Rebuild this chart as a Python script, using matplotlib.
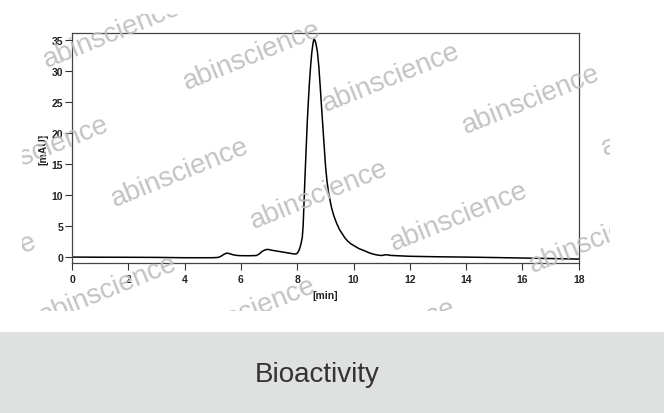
import matplotlib
matplotlib.use("Agg")
import matplotlib.pyplot as plt
from matplotlib.patches import Rectangle

plt.rcParams["font.family"] = ["Liberation Sans", "DejaVu Sans"]

# chromatogram trace (time in min, signal in mAU)
time_min = [
    0.0, 1.0, 2.0, 3.0, 4.0, 5.0, 5.2, 5.3, 5.4, 5.5, 5.6, 5.7, 5.85, 6.0,
    6.3, 6.55, 6.65, 6.75, 6.85, 6.95, 7.1, 7.3, 7.5, 7.7, 7.85, 7.95,
    8.0, 8.05, 8.1, 8.14, 8.18, 8.21, 8.24, 8.27, 8.3, 8.33, 8.36, 8.4,
    8.44, 8.48, 8.52, 8.56, 8.59, 8.61, 8.64, 8.67, 8.72, 8.77, 8.81,
    8.85, 8.89, 8.93, 8.97, 9.01, 9.06, 9.11, 9.17, 9.22, 9.3, 9.4, 9.5,
    9.6, 9.7, 9.8, 9.9, 10.05, 10.2, 10.4, 10.55, 10.7, 10.85, 11.0,
    11.1, 11.2, 11.3, 11.5, 12.0, 13.0, 14.0, 15.0, 16.0, 17.0, 18.0,
]
signal_mau = [
    0.05, 0.03, 0.02, 0.0, -0.05, -0.05, 0.0, 0.2, 0.5, 0.7, 0.6, 0.45,
    0.32, 0.28, 0.27, 0.3, 0.55, 0.95, 1.2, 1.3, 1.15, 1.0, 0.85, 0.7,
    0.58, 0.55, 0.65, 1.0, 1.6, 2.3, 3.2, 5.0, 8.5, 12.2, 15.5, 18.8,
    22.0, 25.4, 28.5, 31.0, 33.0, 34.4, 35.0, 35.1, 34.8, 34.3, 33.0,
    30.6, 28.0, 25.2, 22.5, 19.8, 17.1, 14.5, 12.2, 10.6, 9.1, 8.0, 6.7,
    5.5, 4.5, 3.8, 3.1, 2.6, 2.2, 1.8, 1.4, 1.05, 0.75, 0.53, 0.38, 0.3,
    0.4, 0.42, 0.33, 0.28, 0.18, 0.1, 0.05, -0.02, -0.1, -0.18, -0.27,
]
x_ticks = list(range(0, 19, 2))
y_ticks = list(range(0, 36, 5))
watermark = "abinscience"
caption = "Bioactivity"

W, H = 664, 414
fig = plt.figure(figsize=(W / 100, H / 100), dpi=100)

# grey caption band under the chart
fig.patches.append(Rectangle((0, 0), 1, 81 / H, transform=fig.transFigure,
                             facecolor="#dfe1e0", edgecolor="none", zorder=0))
fig.text(317 / W, 1 - 375 / H, caption, ha="center", va="center",
         fontsize=20, color="#333333")

ax = fig.add_axes([72 / W, 1 - 264 / H, 506.7 / W, 230 / H])
ax.plot(time_min, signal_mau, color="black", lw=1.1)
ax.set_xlim(0, 18)
ax.set_ylim(-0.9, 36.1)
ax.set_xticks(x_ticks)
ax.set_yticks(y_ticks)
for sp in ax.spines.values():
    sp.set_color("#444444")
    sp.set_linewidth(0.9)
ax.tick_params(direction="out", length=5, width=0.8, color="#333333",
               labelsize=7.5, labelcolor="#222222")
ax.tick_params(axis="x", pad=3)
ax.tick_params(axis="y", pad=1.5)
for lbl in ax.get_xticklabels() + ax.get_yticklabels():
    lbl.set_fontweight("bold")
ax.set_xlabel("[min]", fontsize=7.5, fontweight="bold", labelpad=4, color="#222222")
ax.set_ylabel("[mAU]", fontsize=7.5, fontweight="bold", labelpad=2.5, color="#222222")

# watermark overlay, clipped to the original picture area
wm = fig.add_axes([22 / W, 1 - 312 / H, 588 / W, 297 / H], zorder=5)
wm.axis("off")
wm.patch.set_visible(False)
for r in range(0, 4):
    for c in range(-2, 5):
        cx = 252 + 139.5 * c - 72 * r
        cy = 56 + 22 * c + 117 * r
        wm.text(cx / W, 1 - cy / H, watermark, transform=fig.transFigure,
                rotation=22, rotation_mode="anchor", ha="center", va="center",
                fontsize=20, color="#bdbdbd", alpha=0.9, clip_on=True)

fig.savefig("out.png", dpi=100)
plt.close()
